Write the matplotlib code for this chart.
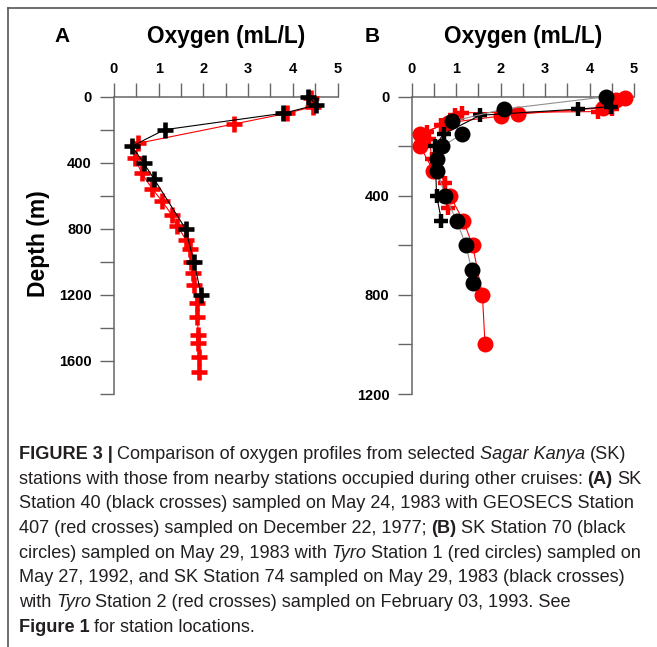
import numpy as np
import matplotlib
matplotlib.use("Agg")
import matplotlib.pyplot as plt
from matplotlib.lines import Line2D
from matplotlib.ticker import MultipleLocator

plt.rcParams['font.family'] = ['Liberation Sans', 'DejaVu Sans']

# ---- panel A : SK station 40 vs GEOSECS 407 ----
sk40_depth = [0, 50, 100, 200, 300, 400, 500, 800, 1000, 1200]
sk40_o2 = [4.35, 4.53, 3.79, 1.13, 0.40, 0.66, 0.90, 1.60, 1.79, 1.95]

geo_depth = [10, 60, 100, 165, 282, 372, 463, 560, 630, 715, 785, 866, 922,
             1000, 1067, 1138, 1249, 1333, 1440, 1490, 1577, 1667]
geo_o2 = [4.40, 4.45, 3.88, 2.69, 0.54, 0.47, 0.62, 0.86, 1.07, 1.29, 1.42,
          1.61, 1.69, 1.73, 1.77, 1.79, 1.85, 1.86, 1.89, 1.87, 1.91, 1.91]

# ---- panel B : SK 70 / Tyro 1 (circles), SK 74 / Tyro 2 (crosses) ----
sk70_depth = [0, 50, 100, 150, 200, 250, 300, 400, 500, 600, 700, 750]
sk70_o2 = [4.38, 2.07, 0.90, 1.14, 0.69, 0.56, 0.58, 0.75, 1.01, 1.22, 1.35, 1.38]

tyro1_depth = [5, 15, 45, 70, 78, 105, 150, 200, 300, 400, 500, 600, 800, 1000]
tyro1_o2 = [4.80, 4.60, 4.30, 2.40, 2.00, 0.82, 0.19, 0.19, 0.49, 0.86, 1.16,
            1.37, 1.59, 1.65]

sk74_depth = [40, 50, 75, 150, 200, 400, 500]
sk74_o2 = [4.48, 3.75, 1.54, 0.72, 0.52, 0.56, 0.67]

tyro2_depth = [50, 60, 65, 72, 115, 142, 170, 250, 350, 450]
tyro2_o2 = [4.50, 4.20, 1.14, 0.97, 0.67, 0.34, 0.40, 0.45, 0.75, 0.82]

W, H = 657, 647
fig = plt.figure(figsize=(W / 100, H / 100), dpi=100)

RED = '#ff0000'
AXC = '#666666'


def px_axes(x0, x1, y0, y1):
    return fig.add_axes([x0 / W, 1 - y1 / H, (x1 - x0) / W, (y1 - y0) / H])


def style_axes(ax, ymax):
    ax.set_xlim(0, 5)
    ax.set_ylim(ymax, 0)
    ax.patch.set_visible(False)
    ax.xaxis.tick_top()
    for s in ['bottom', 'right']:
        ax.spines[s].set_visible(False)
    for s in ['top', 'left']:
        ax.spines[s].set_color(AXC)
        ax.spines[s].set_linewidth(1.1)
    ax.set_xticks(range(6))
    ax.xaxis.set_minor_locator(MultipleLocator(0.5))
    ax.set_yticks(np.arange(0, ymax, 400) if ymax % 400 else np.arange(0, ymax + 1, 400))
    ax.yaxis.set_minor_locator(MultipleLocator(200))
    ax.tick_params(which='both', direction='out', length=10, width=1.0, color=AXC)
    ax.tick_params(axis='x', which='both', top=True, bottom=False, pad=5)
    ax.tick_params(axis='y', which='both', pad=6)
    for lab in ax.get_xticklabels() + ax.get_yticklabels():
        lab.set_fontweight('bold')
        lab.set_fontsize(10.5)


# panel A
axA = px_axes(114, 337.5, 96.7, 394)
style_axes(axA, 1800)
axA.plot(geo_o2, geo_depth, color=RED, lw=0.8, marker='+', ms=11.5, mew=3.3,
         clip_on=False, zorder=3)
axA.plot(sk40_o2, sk40_depth, color='black', lw=0.8, marker='+', ms=12, mew=3.3,
         clip_on=False, zorder=4)

# panel B
axB = px_axes(411.7, 634, 96.7, 394)
style_axes(axB, 1200)
axB.plot(tyro1_o2, tyro1_depth, color=RED, lw=0.8, marker='o', ms=11.5, mec='none',
         clip_on=False, zorder=3)
axB.plot(tyro2_o2, tyro2_depth, color=RED, lw=0.8, marker='+', ms=10, mew=3.2,
         clip_on=False, zorder=4)
axB.plot(sk74_o2, sk74_depth, color='black', lw=0.8, marker='+', ms=10, mew=3.2,
         clip_on=False, zorder=5)
axB.plot(sk70_o2, sk70_depth, color='#909090', lw=0.8, zorder=5, clip_on=False)
axB.plot(sk70_o2, sk70_depth, ls='none', color='black', marker='o', ms=11.5,
         mec='none', clip_on=False, zorder=6)


def ftext(x, y, s, **kw):
    return fig.text(x / W, 1 - y / H, s, **kw)


ftext(61.7, 36.7, 'A', fontsize=15, fontweight='bold', ha='center', va='center')
ftext(372, 36.7, 'B', fontsize=15, fontweight='bold', ha='center', va='center')
ftext(225.7, 36.7, 'Oxygen (mL/L)', fontsize=16.3, fontweight='bold', ha='center', va='center')
ftext(522.8, 36.7, 'Oxygen (mL/L)', fontsize=16.3, fontweight='bold', ha='center', va='center')
ftext(39, 244, 'Depth (m)', fontsize=16.5, fontweight='bold', ha='center', va='center',
      rotation=90)

# frame around the figure panel
fig.add_artist(Line2D([8 / W, 1], [1 - 8 / H, 1 - 8 / H], transform=fig.transFigure,
                      color='#555555', lw=1.2))
fig.add_artist(Line2D([8 / W, 8 / W], [0, 1 - 8 / H], transform=fig.transFigure,
                      color='#555555', lw=1.2))

# caption, built segment by segment so bold / italic parts sit inline
caption = [
    [('FIGURE 3 |', 'b'), ('Comparison of oxygen profiles from selected', 'r'),
     ('Sagar Kanya', 'i'), ('(SK)', 'r')],
    [('stations with those from nearby stations occupied during other cruises:', 'r'),
     ('(A)', 'b'), ('SK', 'r')],
    [('Station 40 (black crosses) sampled on May 24, 1983 with GEOSECS Station', 'r')],
    [('407 (red crosses) sampled on December 22, 1977;', 'r'), ('(B)', 'b'),
     ('SK Station 70 (black', 'r')],
    [('circles) sampled on May 29, 1983 with', 'r'), ('Tyro', 'i'),
     ('Station 1 (red circles) sampled on', 'r')],
    [('May 27, 1992, and SK Station 74 sampled on May 29, 1983 (black crosses)', 'r')],
    [('with', 'r'), ('Tyro', 'i'), ('Station 2 (red crosses) sampled on February 03, 1993. See', 'r')],
    [('Figure 1', 'b'), ('for station locations.', 'r')],
]

CAP_SIZE = 13.1
CAP_COL = '#231f20'
GAP = 0.25 * CAP_SIZE
bg = fig.add_axes([0, 0, 1, 1])
bg.axis('off')


def seg_kw(st):
    kw = dict(fontsize=CAP_SIZE, color=CAP_COL, va='baseline', ha='left')
    if st == 'b':
        kw['fontweight'] = 'bold'
    elif st == 'i':
        kw['fontstyle'] = 'italic'
    return kw


for i, line in enumerate(caption):
    ybase = 459 + i * 24.7
    yf = 1 - ybase / H
    prev = fig.text(19 / W, yf, line[0][0], **seg_kw(line[0][1]))
    for txt, st in line[1:]:
        prev = bg.annotate(txt, xy=(1, yf), xycoords=(prev, 'figure fraction'),
                           xytext=(GAP, 0), textcoords='offset points', **seg_kw(st))

fig.savefig('out.png', dpi=100)
